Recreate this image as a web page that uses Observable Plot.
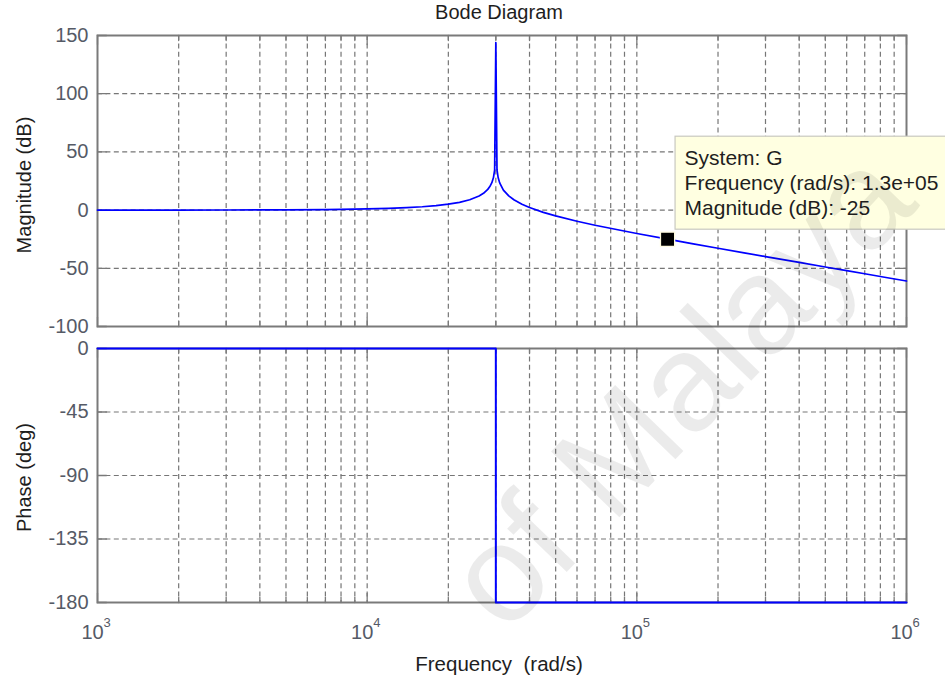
<!DOCTYPE html>
<html>
<head>
<meta charset="utf-8">
<script src="https://cdn.jsdelivr.net/npm/d3@7"></script>
<script src="https://cdn.jsdelivr.net/npm/@observablehq/plot@0.6"></script>
<style>
  html, body { margin: 0; padding: 0; background: #fff; }
  #chart { position: relative; width: 945px; height: 679px; overflow: hidden; }
  #chart svg { position: absolute; left: 0; top: 0; }
</style>
</head>
<body>
<div id="chart"></div>
<script>
// Bode diagram of system G: magnitude (dB) and phase (deg) against frequency (rad/s)
const title = "Bode Diagram";
const magLabel = "Magnitude (dB)";
const phaseLabel = "Phase (deg)";
const freqLabel = "Frequency\u00a0 (rad/s)";

// magnitude response samples
const magFreq = [1000, 2000, 3000, 5000, 7000, 8000, 10000, 12000, 14000, 16000, 18000, 20000,
  22000, 24000, 26000, 27000, 28000, 28500, 29000, 29400, 29700, 30000, 30300, 30600, 31000,
  32000, 33500, 35000, 37500, 40000, 45000, 50000, 60000, 70000, 85000, 100000, 130000,
  160000, 200000, 250000, 300000, 400000, 500000, 600000, 700000, 850000, 1000000];
const magDb = [0.0, 0.04, 0.09, 0.24, 0.48, 0.63, 1.02, 1.51, 2.14, 2.9, 3.88, 5.1,
  6.7, 8.87, 12.1, 14.4, 17.8, 20.2, 23.6, 28.0, 34.5, 144, 34.5, 28.0, 23.4,
  17.2, 12.2, 8.85, 5.0, 2.18, -1.94, -5.0, -9.54, -13.0, -16.9, -20.1, -25.0,
  -28.8, -32.8, -36.7, -39.9, -44.95, -48.9, -52.0, -54.7, -58.1, -60.9];

// phase response samples
const phaseFreq = [1000, 30000, 30000, 1000000];
const phaseDeg = [0, 0, -180, -180];

// axis ticks
const magTicks = [150, 100, 50, 0, -50, -100];
const phaseTicks = [0, -45, -90, -135, -180];
const decadeTicks = [1e3, 1e4, 1e5, 1e6];
const decadeExponents = ["3", "4", "5", "6"];
const minorMultipliers = [2, 3, 4, 5, 6, 7, 8, 9];

// data tip
const tipSystem = "G";
const tipFreq = 1.3e5;
const tipMag = -25;

const watermark = "of Malaya";

// ---- styling ----
const W = 945, H = 679;
const font = "'Liberation Sans', Arial, Helvetica, sans-serif";
const gridColor = "#767676";
const frameColor = "#7a7a7a";
const tickTextColor = "#555a66";
const labelColor = "#1e1e1e";
const lineColor = "#0000ff";
const dash = "5,3.4";

const minorFreq = decadeTicks.slice(0, -1).flatMap(d => minorMultipliers.map(m => m * d));
const gridFreq = [...minorFreq, ...decadeTicks.slice(1, -1)];

const magRows = magFreq.map((f, i) => ({f, v: magDb[i]}));
const phaseRows = phaseFreq.map((f, i) => ({f, v: phaseDeg[i]}));
const tip = {f: tipFreq, v: tipMag};

const expo = v => v.toExponential(1).replace(/e([+-])(\d)$/, "e$10$2");
const tipText = `System: ${tipSystem}\nFrequency (rad/s): ${expo(tipFreq)}\nMagnitude (dB): ${tipMag}`;

// straight inward tick drawn by Plot.vector
const tickShape = {draw(ctx, l) { ctx.moveTo(0, 0); ctx.lineTo(0, -l); }};
const edgeTicks = (values, channel, frameAnchor, rotate, length) =>
  Plot.vector(values, {[channel]: d => d, frameAnchor, rotate, length, anchor: "start",
    shape: tickShape, stroke: frameColor, strokeWidth: 1.3});

// shared frame decorations for each panel
function panelMarks(yTicks) {
  return [
    Plot.ruleX(gridFreq, {x: d => d, stroke: gridColor, strokeWidth: 1.2, strokeDasharray: dash}),
    Plot.ruleY(yTicks.slice(1, -1), {y: d => d, stroke: gridColor, strokeWidth: 1.2, strokeDasharray: dash}),
    Plot.frame({stroke: frameColor, strokeWidth: 2}),
    edgeTicks(minorFreq, "x", "bottom", 0, 5),
    edgeTicks(minorFreq, "x", "top", 180, 5),
    edgeTicks(decadeTicks, "x", "bottom", 0, 9),
    edgeTicks(decadeTicks, "x", "top", 180, 9),
    edgeTicks(yTicks, "y", "left", 90, 9),
    edgeTicks(yTicks, "y", "right", -90, 9),
    Plot.text(yTicks, {y: d => d, frameAnchor: "left", text: d => String(d), textAnchor: "end",
      dx: -9, fontSize: 20, fill: tickTextColor})
  ];
}

const common = {
  width: W, height: H, marginLeft: 97, marginRight: 39,
  x: {type: "log", domain: [1e3, 1e6], axis: null},
  style: {background: "transparent", fontFamily: font, overflow: "visible"}
};

const magPlot = Plot.plot({
  ...common,
  marginTop: 35, marginBottom: H - 326,
  y: {domain: [-100, 150], axis: null},
  marks: [
    ...panelMarks(magTicks),
    Plot.text([title], {frameAnchor: "top", text: d => d, textAnchor: "middle", lineAnchor: "bottom",
      dx: -3, dy: -16.5, fontSize: 20, fill: labelColor}),
    Plot.text([magLabel], {frameAnchor: "left", text: d => d, textAnchor: "middle", rotate: -90,
      lineAnchor: "bottom", dx: -67, dy: 4, fontSize: 20, fill: labelColor}),
    Plot.line(magRows, {x: "f", y: "v", stroke: lineColor, strokeWidth: 1.7}),
    Plot.rect([tip], {x1: "f", x2: "f", y1: "v", y2: "v", insetLeft: 8, insetRight: -300,
      insetTop: -102.5, insetBottom: 9.5, fill: "#ffffe1", stroke: "#c9c9c0", strokeWidth: 1.2}),
    Plot.dot([tip], {x: "f", y: "v", symbol: "square", r: 8, fill: "black", stroke: "#fffbe0", strokeWidth: 1.3}),
    Plot.text([tip], {x: "f", y: "v", text: () => tipText, textAnchor: "start", lineAnchor: "bottom",
      lineHeight: 1.18, dx: 17, dy: -24.5, fontSize: 21, fill: labelColor})
  ]
});

const phasePlot = Plot.plot({
  ...common,
  marginTop: 348, marginBottom: H - 602,
  y: {domain: [-180, 0], axis: null},
  marks: [
    ...panelMarks(phaseTicks),
    Plot.text([phaseLabel], {frameAnchor: "left", text: d => d, textAnchor: "middle", rotate: -90,
      lineAnchor: "bottom", dx: -67, dy: 2, fontSize: 20, fill: labelColor}),
    Plot.text(decadeTicks, {x: d => d, frameAnchor: "bottom", text: () => "10", textAnchor: "middle",
      lineAnchor: "bottom", dx: -5, dy: 36, fontSize: 20, fill: tickTextColor}),
    Plot.text(decadeTicks, {x: d => d, frameAnchor: "bottom", text: (d, i) => decadeExponents[i],
      textAnchor: "start", lineAnchor: "bottom", dx: 6, dy: 24, fontSize: 13, fill: tickTextColor}),
    Plot.text([freqLabel], {frameAnchor: "bottom", text: d => d, textAnchor: "middle", lineAnchor: "bottom",
      dx: -3, dy: 68, fontSize: 20.5, fill: labelColor}),
    Plot.line(phaseRows, {x: "f", y: "v", stroke: lineColor, strokeWidth: 2}),
    Plot.text([watermark], {frameAnchor: "bottom-right", text: d => d, textAnchor: "end",
      lineAnchor: "bottom", rotate: -46, dx: 14, dy: -397, fontSize: 138,
      fill: "black", fillOpacity: 0.08})
  ]
});

const chart = document.getElementById("chart");
chart.append(magPlot, phasePlot);
</script>
</body>
</html>
